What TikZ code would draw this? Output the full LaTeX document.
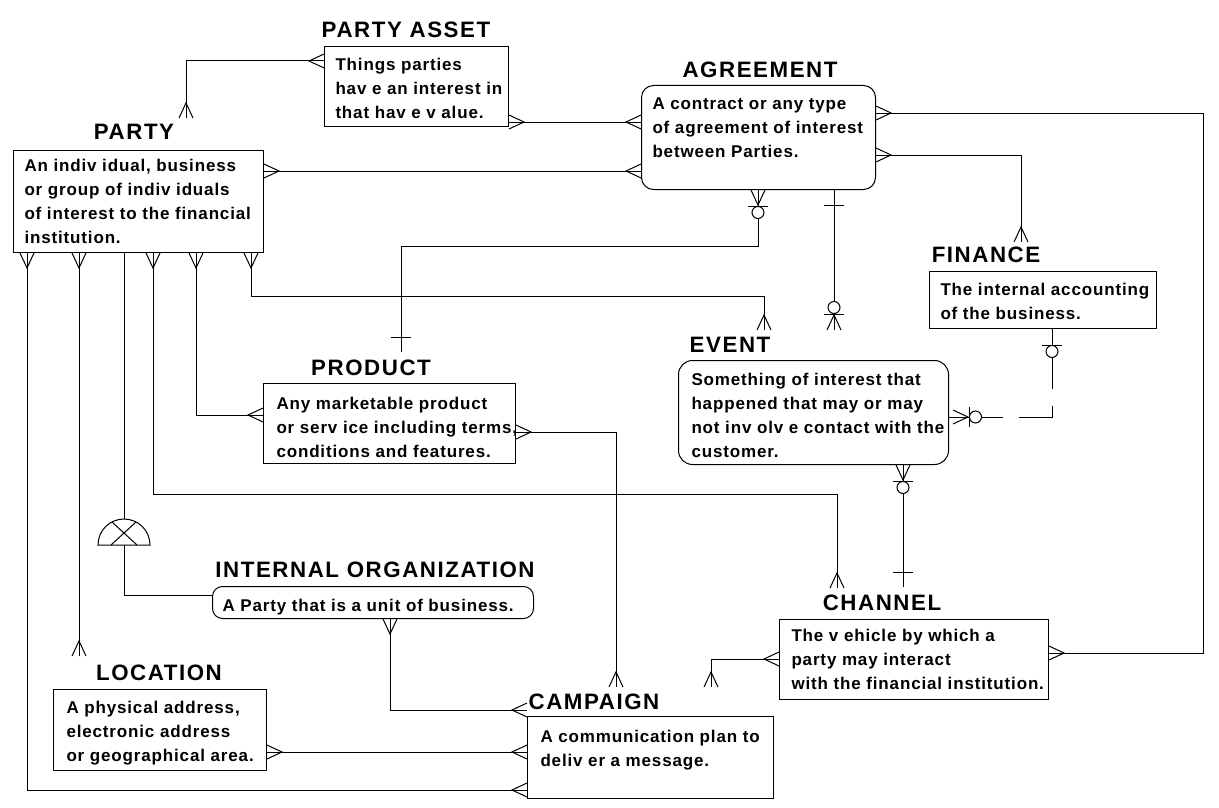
\documentclass[tikz,border=0pt]{standalone}
\usepackage{fontspec}
\newfontfamily\erfont{Liberation Sans}[LetterSpace=7]
\newfontfamily\erbody{Liberation Sans}[LetterSpace=5]
\begin{document}
\begin{tikzpicture}[x=1pt,y=-1pt,line width=1pt,
  ent/.style={draw, anchor=north west, inner sep=0pt},
  rent/.style={ent, rounded corners=12pt},
  desc/.style={anchor=north west, inner sep=0pt, align=left, font=\erbody\bfseries\fontsize{17}{24}\selectfont},
  etitle/.style={inner sep=0pt, font=\erfont\bfseries\fontsize{22.3}{26}\selectfont},
  crowf/.pic={\draw (0,7)--(15,0)--(0,-7);},
  zmany/.pic={\draw (0,7)--(15,0)--(0,-7); \draw (16,-10)--(16,10); \draw[fill=white] (22.5,0) circle[radius=6];},
  zone/.pic={\draw (16,-10)--(16,10); \draw[fill=white] (22.5,0) circle[radius=6];},
  onebar/.pic={\draw (15,-10)--(15,10);}
]
\fill[white] (0,0) rectangle (1219,808);
\useasboundingbox (0,0) rectangle (1219,808);

% entities
\node[ent, minimum width=184pt, minimum height=80pt] (passet) at (324,46) {};
\node[rent, minimum width=234pt, minimum height=104pt] (agree) at (641,85) {};
\node[ent, minimum width=250pt, minimum height=102pt] (party) at (13,150) {};
\node[ent, minimum width=227pt, minimum height=57pt] (finance) at (929,271) {};
\node[rent, rounded corners=14pt, minimum width=270pt, minimum height=104pt] (event) at (678,360) {};
\node[ent, minimum width=252pt, minimum height=80pt] (product) at (263,383) {};
\node[rent, rounded corners=10pt, minimum width=321pt, minimum height=32pt] (intorg) at (212,586) {};
\node[ent, minimum width=269pt, minimum height=80pt] (channel) at (779,619) {};
\node[ent, minimum width=213pt, minimum height=81pt] (location) at (53,689) {};
\node[ent, minimum width=246pt, minimum height=82pt] (campaign) at (527,716) {};

% titles
\node[etitle] (passetT) at (406,30) {PARTY ASSET};
\node[etitle] (agreeT) at (760,70) {AGREEMENT};
\node[etitle] (partyT) at (134,132) {PARTY};
\node[etitle] (financeT) at (986,255) {FINANCE};
\node[etitle] (eventT) at (730,345) {EVENT};
\node[etitle] (productT) at (371,368) {PRODUCT};
\node[etitle] (intorgT) at (375,570) {INTERNAL ORGANIZATION};
\node[etitle] (channelT) at (882,603) {CHANNEL};
\node[etitle] (locationT) at (159,673) {LOCATION};
\node[etitle] (campaignT) at (594,702) {CAMPAIGN};

% descriptions
\node[desc] (passetD) at ([shift={(11,12)}]passet.north west) {Things parties\\hav e an interest in\\that hav e v alue.};
\node[desc] (agreeD) at ([shift={(11,12)}]agree.north west) {A contract or any type\\of agreement of interest\\between Parties.};
\node[desc] (partyD) at ([shift={(11,9)}]party.north west) {An indiv idual, business\\or group of indiv iduals\\of interest to the financial\\institution.};
\node[desc] (financeD) at ([shift={(11,12)}]finance.north west) {The internal accounting\\of the business.};
\node[desc] (eventD) at ([shift={(13,13)}]event.north west) {Something of interest that\\happened that may or may\\not inv olv e contact with the\\customer.};
\node[desc] (productD) at ([shift={(13,14)}]product.north west) {Any marketable product\\or serv ice including terms,\\conditions and features.};
\node[desc] (intorgD) at ([shift={(10,13)}]intorg.north west) {A Party that is a unit of business.};
\node[desc] (channelD) at ([shift={(12,10)}]channel.north west) {The v ehicle by which a\\party may interact\\with the financial institution.};
\node[desc] (locationD) at ([shift={(13,12)}]location.north west) {A physical address,\\electronic address\\or geographical area.};
\node[desc] (campaignD) at ([shift={(13,14)}]campaign.north west) {A communication plan to\\deliv er a message.};

% free ends
\coordinate (paEnd) at (186,118);
\coordinate (finEnd) at (1021,242);
\coordinate (prodEnd) at (401,352);
\coordinate (evEnd) at (764,330);
\coordinate (evEndB) at (834,330);
\coordinate (locEnd) at (79,656);
\coordinate (chEnd) at (837,588);
\coordinate (chEndB) at (903,587);
\coordinate (campEnd) at (616,687);
\coordinate (chEndC) at (711,687);
\coordinate (campTop) at (527,710);
\coordinate (subTop) at (124,519);
\coordinate (subBase) at (124,545);

% connectors
\draw (passet.west |- 0,61) -- (186,61) -- (paEnd);
\draw (passet.east |- 0,122) -- (agree.west |- 0,122);
\draw (party.east |- 0,171) -- (agree.west |- 0,171);
\draw (agree.east |- 0,113) -- (1203,113) -- (1203,653) -- (channel.east |- 0,653);
\draw (agree.east |- 0,155) -- (1021,155) -- (finEnd);
\draw (agree.south -| 758,0) -- (758,246) -- (401,246) -- (prodEnd);
\draw (agree.south -| 834,0) -- (evEndB);
\draw (party.south -| 251,0) -- (251,296) -- (764,296) -- (evEnd);
\draw (party.south -| 27,0) -- (27,790) -- (campaign.west |- 0,790);
\draw (party.south -| 79,0) -- (locEnd);
\draw (party.south -| 124,0) -- (subTop);
\draw (party.south -| 153,0) -- (153,494) -- (837,494) -- (chEnd);
\draw (party.south -| 196,0) -- (196,415) -- (product.west |- 0,415);
\draw (product.east |- 0,432) -- (616,432) -- (campEnd);
\draw (event.south -| 903,0) -- (chEndB);
\draw[dash pattern=on 54pt off 16pt on 44pt off 17pt on 400pt] (event.east |- 0,417) -- (1052,417) -- (finance.south -| 1052,0);
\draw (intorg.south -| 390,0) -- (390,710) -- (campTop);
\draw (location.east |- 0,752) -- (campaign.west |- 0,752);
\draw (channel.west |- 0,659) -- (711,659) -- (chEndC);
\draw (subBase) -- (124,595) -- (intorg.west |- 0,595);

% subtype symbol
\draw[fill=white] (98,545) arc[start angle=180, end angle=360, radius=26] -- cycle;
\draw (112,522) -- (137,545) (136,522) -- (111,545);

% end symbols
\pic[rotate=180] at (passet.west |- 0,61) {crowf};
\pic[rotate=90] at (paEnd) {crowf};
\pic at (passet.east |- 0,122) {crowf};
\pic[rotate=180] at (agree.west |- 0,122) {crowf};
\pic at (party.east |- 0,171) {crowf};
\pic[rotate=180] at (agree.west |- 0,171) {crowf};
\pic at (agree.east |- 0,113) {crowf};
\pic at (channel.east |- 0,653) {crowf};
\pic at (agree.east |- 0,155) {crowf};
\pic[rotate=90] at (finEnd) {crowf};
\pic[rotate=270] at (agree.south -| 758,0) {zmany};
\pic[rotate=90] at (prodEnd) {onebar};
\pic[rotate=270] at (agree.south -| 834,0) {onebar};
\pic[rotate=90] at (evEndB) {zmany};
\pic[rotate=270] at (party.south -| 251,0) {crowf};
\pic[rotate=90] at (evEnd) {crowf};
\pic[rotate=270] at (party.south -| 27,0) {crowf};
\pic[rotate=180] at (campaign.west |- 0,790) {crowf};
\pic[rotate=270] at (party.south -| 79,0) {crowf};
\pic[rotate=90] at (locEnd) {crowf};
\pic[rotate=270] at (party.south -| 153,0) {crowf};
\pic[rotate=90] at (chEnd) {crowf};
\pic[rotate=270] at (party.south -| 196,0) {crowf};
\pic[rotate=180] at (product.west |- 0,415) {crowf};
\pic at (product.east |- 0,432) {crowf};
\pic[rotate=90] at (campEnd) {crowf};
\pic[rotate=270] at (event.south -| 903,0) {zmany};
\pic[rotate=90] at (chEndB) {onebar};
\pic at ([xshift=4pt]event.east |- 0,417) {zmany};
\pic[rotate=270] at (finance.south -| 1052,0) {zone};
\pic[rotate=270] at (intorg.south -| 390,0) {crowf};
\pic[rotate=180] at (campTop) {crowf};
\pic at (location.east |- 0,752) {crowf};
\pic[rotate=180] at (campaign.west |- 0,752) {crowf};
\pic[rotate=180] at (channel.west |- 0,659) {crowf};
\pic[rotate=90] at (chEndC) {crowf};
\end{tikzpicture}
\end{document}
